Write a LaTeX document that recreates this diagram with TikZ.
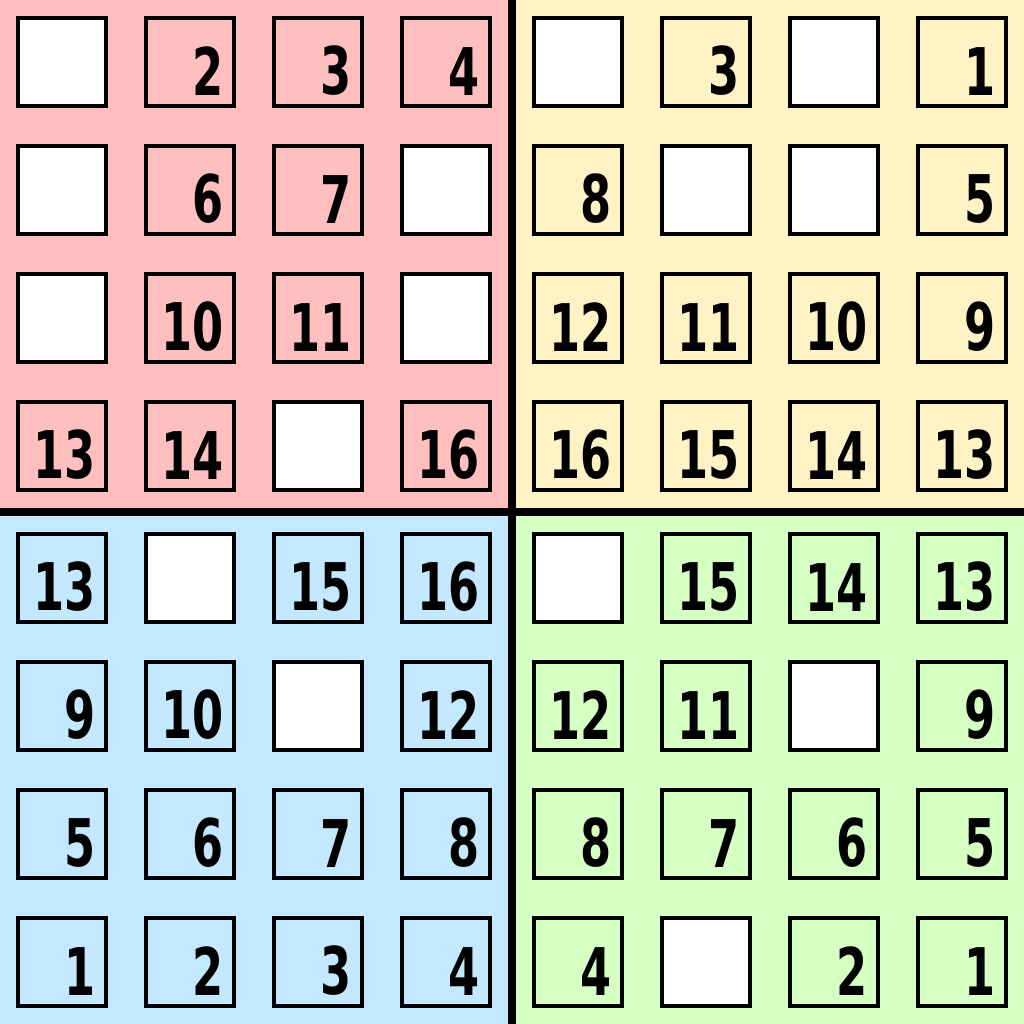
\documentclass[tikz,border=0pt]{standalone}
\usepackage{fontspec}
\newfontfamily\pix[FakeStretch=0.68]{DejaVu Sans}
\definecolor{qred}{RGB}{255,191,191}
\definecolor{qyellow}{RGB}{255,242,196}
\definecolor{qblue}{RGB}{196,232,255}
\definecolor{qgreen}{RGB}{214,255,196}
\tikzset{
  cell/.style={draw=black, line width=0.04cm, minimum size=0.88cm, inner sep=0pt, outer sep=0pt},
  blankcell/.style={cell, fill=white},
  num/.style={font=\pix\bfseries\fontsize{18.7}{20}\selectfont, inner sep=0pt, anchor=south east},
  divider/.style={line width=0.08cm, line cap=butt}
}
% #1 x of first centre, #2 y of first centre, #3 colour, #4 name prefix, #5 list (0 = blank)
\newcommand\drawquad[6]{%
  \fill[#3] (#5) rectangle ++(5.12,5.12);
  \foreach \v [count=\k from 0] in {#6} {
    \pgfmathtruncatemacro\cc{mod(\k,4)}
    \pgfmathtruncatemacro\rr{div(\k,4)}
    \pgfmathsetmacro\xx{#1+1.28*\cc}
    \pgfmathsetmacro\yy{#2-1.28*\rr}
    \ifnum\v=0
      \node[blankcell] (#4\k) at (\xx,\yy) {};
    \else
      \node[cell] (#4\k) at (\xx,\yy) {};
      \node[num] (#4n\k) at ([shift={(-0.10,0.10)}]#4\k.south east) {\v};
    \fi
  }
}
\begin{document}
\begin{tikzpicture}
\useasboundingbox (0,0) rectangle (10.24,10.24);
\drawquad{0.62}{9.62}{qred}{r}{0,5.12}{0,2,3,4, 0,6,7,0, 0,10,11,0, 13,14,0,16}
\drawquad{5.78}{9.62}{qyellow}{y}{5.12,5.12}{0,3,0,1, 8,0,0,5, 12,11,10,9, 16,15,14,13}
\drawquad{0.62}{4.46}{qblue}{b}{0,0}{13,0,15,16, 9,10,0,12, 5,6,7,8, 1,2,3,4}
\drawquad{5.78}{4.46}{qgreen}{g}{5.12,0}{0,15,14,13, 12,11,0,9, 8,7,6,5, 4,0,2,1}
\coordinate (vtop) at (5.12,10.24);
\coordinate (vbot) at (5.12,0);
\coordinate (hleft) at (0,5.12);
\coordinate (hright) at (10.24,5.12);
\draw[divider] (vtop) -- (vbot);
\draw[divider] (hleft) -- (hright);
\end{tikzpicture}
\end{document}
